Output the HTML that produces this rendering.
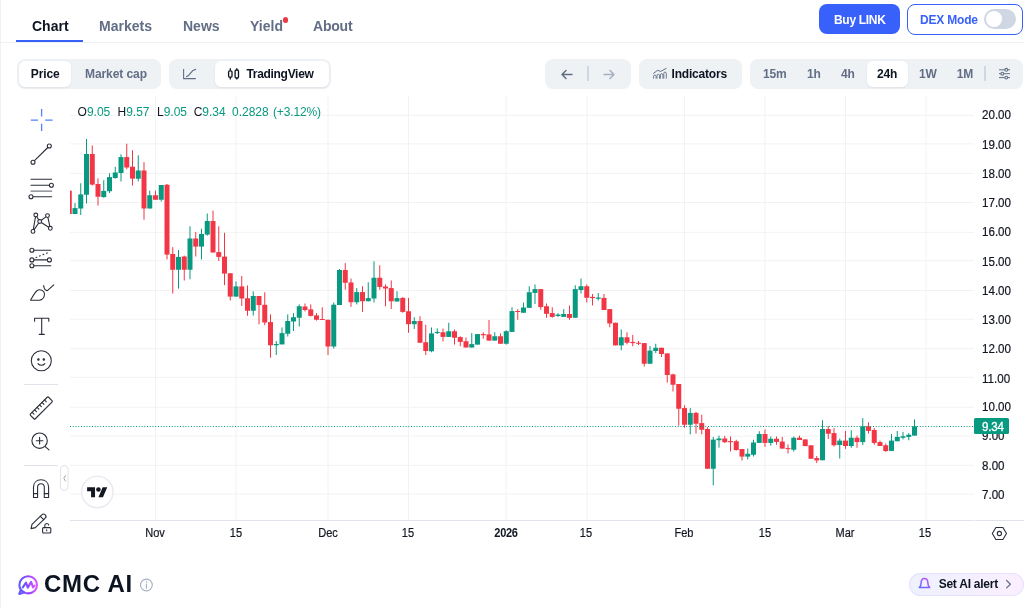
<!DOCTYPE html>
<html lang="en">
<head>
<meta charset="utf-8">
<title>Chainlink chart</title>
<style>
html,body{margin:0;padding:0;}
body{width:1024px;height:608px;overflow:hidden;background:#fff;position:relative;font-family:"Liberation Sans",sans-serif;color:#0d1421;}
.abs{position:absolute;}
.t{position:absolute;white-space:nowrap;line-height:1;}
.nav{font-size:14px;font-weight:bold;color:#616e85;top:19px;}
.seg{position:absolute;background:#eff2f5;border-radius:8px;top:58.5px;height:30px;}
.pill{position:absolute;background:#fff;border-radius:6px;top:60.5px;height:26.5px;box-shadow:0 1px 2px rgba(88,102,126,.12);}
.sm{font-size:12px;font-weight:bold;top:68px;letter-spacing:-0.2px;}
.gray{color:#616e85;}
.lg{top:106.4px;font-size:12px;color:#131722;}
.lg span{color:#089981;}
.ax{font-size:12px;color:#131722;transform:scaleX(0.965);transform-origin:0 50%;-webkit-text-stroke:0.2px #131722;}
.tx{position:absolute;white-space:nowrap;line-height:1;font-size:12px;color:#131722;top:527px;transform:translateX(-50%) scaleX(0.92);-webkit-text-stroke:0.2px #131722;}
svg{position:absolute;left:0;top:0;overflow:visible;}
</style>
</head>
<body>
<!-- left border -->
<div class="abs" style="left:0;top:0;width:1px;height:608px;background:#eff2f5"></div>

<!-- nav tabs -->
<div class="t nav" style="left:32px;color:#0d1421">Chart</div>
<div class="t nav" style="left:99px">Markets</div>
<div class="t nav" style="left:183px">News</div>
<div class="t nav" style="left:250px">Yield</div>
<div class="abs" style="left:282.7px;top:17.2px;width:5.8px;height:5.8px;border-radius:50%;background:#ea3943"></div>
<div class="t nav" style="left:313px;letter-spacing:-0.2px">About</div>
<div class="abs" style="left:0;top:42px;width:1024px;height:1px;background:#eff2f5"></div>
<div class="abs" style="left:16px;top:40px;width:67px;height:2px;background:#3861fb"></div>

<!-- top right buttons -->
<div class="abs" style="left:819px;top:4px;width:81px;height:30px;border-radius:8px;background:#3861fb"></div>
<div class="t" style="left:834px;top:13.5px;font-size:12px;font-weight:bold;color:#fff;letter-spacing:-0.3px">Buy LINK</div>
<div class="abs" style="left:907px;top:3.6px;width:114px;height:29px;border-radius:8px;border:1px solid #3861fb;box-sizing:content-box;background:#fff"></div>
<div class="t" style="left:920px;top:13.5px;font-size:12px;font-weight:bold;color:#3861fb;letter-spacing:-0.2px">DEX Mode</div>
<div class="abs" style="left:984px;top:9px;width:32px;height:20px;border-radius:10px;background:#cfd6e4"></div>
<div class="abs" style="left:986px;top:11px;width:16px;height:16px;border-radius:50%;background:#fff"></div>

<!-- toolbar row -->
<div class="seg" style="left:17px;width:143.5px"></div>
<div class="pill" style="left:18.8px;width:52.5px"></div>
<div class="t sm" style="left:30.8px;letter-spacing:-0.1px">Price</div>
<div class="t sm gray" style="left:85px;letter-spacing:-0.08px">Market cap</div>

<div class="seg" style="left:168.7px;width:162.3px"></div>
<div class="pill" style="left:214.5px;width:114.5px"></div>
<svg width="1024" height="608" viewBox="0 0 1024 608">
  <path d="M183.6 69v9.6h12.2" fill="none" stroke="#616e85" stroke-width="1.1"/>
  <path d="M186.6 76.6C190.5 75.5 190.5 70 195.7 69.4" fill="none" stroke="#616e85" stroke-width="1.1" stroke-linecap="round" stroke-linejoin="round"/>
  <!-- candle icon -->
  <g fill="none" stroke="#0d1421" stroke-width="1.3">
    <rect x="228.6" y="70.8" width="3.4" height="6.4" rx="1.2"/>
    <path d="M230.3 68.2v2.6M230.3 77.2v2.4"/>
    <rect x="235.1" y="70" width="3.4" height="8" rx="1.2"/>
    <path d="M236.8 68.2v1.8M236.8 78v1.6"/>
  </g>
</svg>
<div class="t sm" style="left:246.4px;letter-spacing:-0.3px">TradingView</div>

<div class="seg" style="left:545px;width:86px"></div>
<div class="seg" style="left:639px;width:103px"></div>
<div class="seg" style="left:750px;width:273.3px"></div>
<div class="pill" style="left:867px;width:41px"></div>
<div class="t sm" style="left:671.6px">Indicators</div>
<div class="t sm gray" style="left:763px">15m</div>
<div class="t sm gray" style="left:807px">1h</div>
<div class="t sm gray" style="left:841px">4h</div>
<div class="t sm" style="left:877px">24h</div>
<div class="t sm gray" style="left:919px">1W</div>
<div class="t sm gray" style="left:956.8px">1M</div>
<div class="abs" style="left:984px;top:66px;width:1.6px;height:15px;background:#cfd6e4"></div>
<div class="abs" style="left:587.3px;top:66px;width:1.6px;height:15px;background:#cfd6e4"></div>
<svg width="1024" height="608" viewBox="0 0 1024 608">
  <g fill="none" stroke="#616e85" stroke-width="1.5" stroke-linecap="round" stroke-linejoin="round">
    <path d="M572 74.5h-10M566 70.5l-4 4 4 4"/>
  </g>
  <g fill="none" stroke="#a6b0c3" stroke-width="1.5" stroke-linecap="round" stroke-linejoin="round">
    <path d="M604 74.5h10M610 70.5l4 4-4 4"/>
  </g>
  <!-- indicators icon -->
  <g fill="none" stroke="#616e85" stroke-width="1">
    <path d="M653.6 73.3l4-3 3.2 1.1 5.3-3" stroke-linecap="round" stroke-linejoin="round"/>
    <path d="M653.6 78.6V76.25a1.25 1.25 0 0 1 2.5 0V78.6M657 78.6V75.55a1.25 1.25 0 0 1 2.5 0V78.6M660.4 78.6V74.95a1.25 1.25 0 0 1 2.5 0V78.6M663.8 78.6V73.35a1.25 1.25 0 0 1 2.5 0V78.6" stroke-width="0.9"/>
  </g>
  <!-- settings sliders icon -->
  <g fill="none" stroke="#616e85" stroke-width="1">
    <path d="M999 69.8h11M999 73.7h11M999 77.6h11"/>
    <circle cx="1006.3" cy="69.8" r="1.4" fill="#eff2f5" stroke-width="1.1"/>
    <circle cx="1002.3" cy="73.7" r="1.4" fill="#eff2f5" stroke-width="1.1"/>
    <circle cx="1006.3" cy="77.6" r="1.4" fill="#eff2f5" stroke-width="1.1"/>
  </g>
</svg>

<!-- chart -->
<svg width="1024" height="608" viewBox="0 0 1024 608" shape-rendering="auto">
<defs><clipPath id="pane"><rect x="70" y="96" width="904" height="424"/></clipPath></defs>
<g clip-path="url(#pane)">
<line x1="70" x2="974" y1="494.0" y2="494.0" stroke="#f2f2f3" stroke-width="1"/>
<line x1="70" x2="974" y1="465.3" y2="465.3" stroke="#f2f2f3" stroke-width="1"/>
<line x1="70" x2="974" y1="436.1" y2="436.1" stroke="#f2f2f3" stroke-width="1"/>
<line x1="70" x2="974" y1="407.25" y2="407.25" stroke="#f2f2f3" stroke-width="1"/>
<line x1="70" x2="974" y1="377.3" y2="377.3" stroke="#f2f2f3" stroke-width="1"/>
<line x1="70" x2="974" y1="348.7" y2="348.7" stroke="#f2f2f3" stroke-width="1"/>
<line x1="70" x2="974" y1="319.25" y2="319.25" stroke="#f2f2f3" stroke-width="1"/>
<line x1="70" x2="974" y1="290.5" y2="290.5" stroke="#f2f2f3" stroke-width="1"/>
<line x1="70" x2="974" y1="260.7" y2="260.7" stroke="#f2f2f3" stroke-width="1"/>
<line x1="70" x2="974" y1="232.3" y2="232.3" stroke="#f2f2f3" stroke-width="1"/>
<line x1="70" x2="974" y1="202.5" y2="202.5" stroke="#f2f2f3" stroke-width="1"/>
<line x1="70" x2="974" y1="173.4" y2="173.4" stroke="#f2f2f3" stroke-width="1"/>
<line x1="70" x2="974" y1="143.9" y2="143.9" stroke="#f2f2f3" stroke-width="1"/>
<line x1="70" x2="974" y1="115.3" y2="115.3" stroke="#f2f2f3" stroke-width="1"/>
<line x1="155.5" x2="155.5" y1="96" y2="520" stroke="#f2f2f3" stroke-width="1"/>
<line x1="236.0" x2="236.0" y1="96" y2="520" stroke="#f2f2f3" stroke-width="1"/>
<line x1="328.0" x2="328.0" y1="96" y2="520" stroke="#f2f2f3" stroke-width="1"/>
<line x1="408.5" x2="408.5" y1="96" y2="520" stroke="#f2f2f3" stroke-width="1"/>
<line x1="506.0" x2="506.0" y1="96" y2="520" stroke="#f2f2f3" stroke-width="1"/>
<line x1="587.0" x2="587.0" y1="96" y2="520" stroke="#f2f2f3" stroke-width="1"/>
<line x1="684.5" x2="684.5" y1="96" y2="520" stroke="#f2f2f3" stroke-width="1"/>
<line x1="765.0" x2="765.0" y1="96" y2="520" stroke="#f2f2f3" stroke-width="1"/>
<line x1="845.5" x2="845.5" y1="96" y2="520" stroke="#f2f2f3" stroke-width="1"/>
<line x1="926.0" x2="926.0" y1="96" y2="520" stroke="#f2f2f3" stroke-width="1"/>
<rect x="68.75" y="190.60" width="1" height="23.40" fill="#f23645"/>
<rect x="66.75" y="190.60" width="5" height="23.40" fill="#f23645"/>
<rect x="74.50" y="203.10" width="1" height="10.90" fill="#089981"/>
<rect x="72.50" y="208.10" width="5" height="5.90" fill="#089981"/>
<rect x="80.25" y="183.25" width="1" height="31.75" fill="#089981"/>
<rect x="78.25" y="194.40" width="5" height="14.10" fill="#089981"/>
<rect x="86.00" y="139.00" width="1" height="64.50" fill="#089981"/>
<rect x="84.00" y="154.00" width="5" height="40.75" fill="#089981"/>
<rect x="91.75" y="145.50" width="1" height="40.00" fill="#f23645"/>
<rect x="89.75" y="154.00" width="5" height="30.60" fill="#f23645"/>
<rect x="97.50" y="178.40" width="1" height="27.10" fill="#f23645"/>
<rect x="95.50" y="184.00" width="5" height="12.75" fill="#f23645"/>
<rect x="103.25" y="180.25" width="1" height="17.50" fill="#089981"/>
<rect x="101.25" y="190.90" width="5" height="6.20" fill="#089981"/>
<rect x="109.00" y="173.40" width="1" height="19.60" fill="#089981"/>
<rect x="107.00" y="177.10" width="5" height="14.15" fill="#089981"/>
<rect x="114.75" y="166.75" width="1" height="12.00" fill="#089981"/>
<rect x="112.75" y="172.50" width="5" height="5.50" fill="#089981"/>
<rect x="120.50" y="154.25" width="1" height="27.25" fill="#089981"/>
<rect x="118.50" y="157.10" width="5" height="15.90" fill="#089981"/>
<rect x="126.25" y="143.75" width="1" height="25.50" fill="#f23645"/>
<rect x="124.25" y="157.10" width="5" height="10.40" fill="#f23645"/>
<rect x="132.00" y="150.25" width="1" height="35.25" fill="#f23645"/>
<rect x="130.00" y="166.75" width="5" height="11.85" fill="#f23645"/>
<rect x="137.75" y="155.25" width="1" height="26.25" fill="#089981"/>
<rect x="135.75" y="170.50" width="5" height="8.25" fill="#089981"/>
<rect x="143.50" y="162.10" width="1" height="57.65" fill="#f23645"/>
<rect x="141.50" y="170.50" width="5" height="38.00" fill="#f23645"/>
<rect x="149.25" y="190.60" width="1" height="17.90" fill="#089981"/>
<rect x="147.25" y="195.25" width="5" height="13.25" fill="#089981"/>
<rect x="155.00" y="190.60" width="1" height="9.15" fill="#f23645"/>
<rect x="153.00" y="195.25" width="5" height="4.50" fill="#f23645"/>
<rect x="160.75" y="185.00" width="1" height="16.50" fill="#089981"/>
<rect x="158.75" y="185.00" width="5" height="14.75" fill="#089981"/>
<rect x="166.50" y="184.00" width="1" height="75.40" fill="#f23645"/>
<rect x="164.50" y="184.75" width="5" height="69.85" fill="#f23645"/>
<rect x="172.25" y="247.10" width="1" height="46.40" fill="#f23645"/>
<rect x="170.25" y="254.00" width="5" height="15.75" fill="#f23645"/>
<rect x="178.00" y="250.00" width="1" height="38.60" fill="#089981"/>
<rect x="176.00" y="256.90" width="5" height="12.85" fill="#089981"/>
<rect x="183.75" y="255.60" width="1" height="24.90" fill="#f23645"/>
<rect x="181.75" y="256.50" width="5" height="13.25" fill="#f23645"/>
<rect x="189.50" y="226.25" width="1" height="53.00" fill="#089981"/>
<rect x="187.50" y="238.50" width="5" height="31.25" fill="#089981"/>
<rect x="195.25" y="231.90" width="1" height="24.60" fill="#f23645"/>
<rect x="193.25" y="238.50" width="5" height="8.10" fill="#f23645"/>
<rect x="201.00" y="228.75" width="1" height="30.65" fill="#089981"/>
<rect x="199.00" y="234.00" width="5" height="12.60" fill="#089981"/>
<rect x="206.75" y="213.50" width="1" height="22.10" fill="#089981"/>
<rect x="204.75" y="221.00" width="5" height="13.60" fill="#089981"/>
<rect x="212.50" y="210.60" width="1" height="41.90" fill="#f23645"/>
<rect x="210.50" y="221.00" width="5" height="31.50" fill="#f23645"/>
<rect x="218.25" y="226.25" width="1" height="34.75" fill="#f23645"/>
<rect x="216.25" y="252.10" width="5" height="4.80" fill="#f23645"/>
<rect x="224.00" y="232.75" width="1" height="52.35" fill="#f23645"/>
<rect x="222.00" y="256.60" width="5" height="17.00" fill="#f23645"/>
<rect x="229.75" y="273.25" width="1" height="27.25" fill="#f23645"/>
<rect x="227.75" y="273.25" width="5" height="23.35" fill="#f23645"/>
<rect x="235.50" y="281.40" width="1" height="15.20" fill="#089981"/>
<rect x="233.50" y="286.40" width="5" height="10.20" fill="#089981"/>
<rect x="241.25" y="276.00" width="1" height="30.00" fill="#f23645"/>
<rect x="239.25" y="286.40" width="5" height="12.10" fill="#f23645"/>
<rect x="247.00" y="285.40" width="1" height="30.35" fill="#f23645"/>
<rect x="245.00" y="298.25" width="5" height="12.50" fill="#f23645"/>
<rect x="252.75" y="291.40" width="1" height="24.10" fill="#089981"/>
<rect x="250.75" y="296.00" width="5" height="14.75" fill="#089981"/>
<rect x="258.50" y="296.00" width="1" height="28.30" fill="#f23645"/>
<rect x="256.50" y="296.00" width="5" height="9.10" fill="#f23645"/>
<rect x="264.25" y="292.25" width="1" height="32.95" fill="#f23645"/>
<rect x="262.25" y="304.75" width="5" height="17.75" fill="#f23645"/>
<rect x="270.00" y="314.30" width="1" height="43.45" fill="#f23645"/>
<rect x="268.00" y="322.10" width="5" height="23.15" fill="#f23645"/>
<rect x="275.75" y="341.00" width="1" height="14.00" fill="#089981"/>
<rect x="273.75" y="344.00" width="5" height="1.25" fill="#089981"/>
<rect x="281.50" y="327.50" width="1" height="16.90" fill="#089981"/>
<rect x="279.50" y="333.10" width="5" height="11.30" fill="#089981"/>
<rect x="287.25" y="314.40" width="1" height="22.10" fill="#089981"/>
<rect x="285.25" y="321.00" width="5" height="12.75" fill="#089981"/>
<rect x="293.00" y="313.10" width="1" height="17.90" fill="#089981"/>
<rect x="291.00" y="317.25" width="5" height="4.25" fill="#089981"/>
<rect x="298.75" y="304.40" width="1" height="22.10" fill="#089981"/>
<rect x="296.75" y="306.25" width="5" height="11.50" fill="#089981"/>
<rect x="304.50" y="303.50" width="1" height="8.00" fill="#f23645"/>
<rect x="302.50" y="306.50" width="5" height="3.50" fill="#f23645"/>
<rect x="310.25" y="304.40" width="1" height="12.10" fill="#f23645"/>
<rect x="308.25" y="309.40" width="5" height="6.50" fill="#f23645"/>
<rect x="316.00" y="313.10" width="1" height="7.50" fill="#f23645"/>
<rect x="314.00" y="315.40" width="5" height="4.35" fill="#f23645"/>
<rect x="321.75" y="307.25" width="1" height="12.50" fill="#f23645"/>
<rect x="319.75" y="319.00" width="5" height="1.00" fill="#f23645"/>
<rect x="327.50" y="319.75" width="1" height="35.25" fill="#f23645"/>
<rect x="325.50" y="319.75" width="5" height="26.75" fill="#f23645"/>
<rect x="333.25" y="302.50" width="1" height="46.00" fill="#089981"/>
<rect x="331.25" y="304.70" width="5" height="41.80" fill="#089981"/>
<rect x="339.00" y="269.00" width="1" height="36.00" fill="#089981"/>
<rect x="337.00" y="270.00" width="5" height="35.00" fill="#089981"/>
<rect x="344.75" y="263.10" width="1" height="26.65" fill="#f23645"/>
<rect x="342.75" y="270.00" width="5" height="12.75" fill="#f23645"/>
<rect x="350.50" y="278.50" width="1" height="28.40" fill="#f23645"/>
<rect x="348.50" y="282.50" width="5" height="19.75" fill="#f23645"/>
<rect x="356.25" y="288.10" width="1" height="16.30" fill="#089981"/>
<rect x="354.25" y="292.10" width="5" height="10.15" fill="#089981"/>
<rect x="362.00" y="286.25" width="1" height="25.65" fill="#f23645"/>
<rect x="360.00" y="292.10" width="5" height="9.15" fill="#f23645"/>
<rect x="367.75" y="282.25" width="1" height="19.00" fill="#089981"/>
<rect x="365.75" y="298.10" width="5" height="3.15" fill="#089981"/>
<rect x="373.50" y="261.25" width="1" height="41.25" fill="#089981"/>
<rect x="371.50" y="277.75" width="5" height="20.75" fill="#089981"/>
<rect x="379.25" y="265.25" width="1" height="24.50" fill="#f23645"/>
<rect x="377.25" y="277.75" width="5" height="9.15" fill="#f23645"/>
<rect x="385.00" y="284.40" width="1" height="21.85" fill="#f23645"/>
<rect x="383.00" y="286.50" width="5" height="2.00" fill="#f23645"/>
<rect x="390.75" y="280.40" width="1" height="28.60" fill="#f23645"/>
<rect x="388.75" y="288.10" width="5" height="13.15" fill="#f23645"/>
<rect x="396.50" y="291.25" width="1" height="10.25" fill="#089981"/>
<rect x="394.50" y="298.10" width="5" height="3.40" fill="#089981"/>
<rect x="402.25" y="297.20" width="1" height="15.55" fill="#f23645"/>
<rect x="400.25" y="297.90" width="5" height="14.00" fill="#f23645"/>
<rect x="408.00" y="297.90" width="1" height="34.85" fill="#f23645"/>
<rect x="406.00" y="311.25" width="5" height="12.95" fill="#f23645"/>
<rect x="413.75" y="317.20" width="1" height="11.80" fill="#089981"/>
<rect x="411.75" y="321.00" width="5" height="3.20" fill="#089981"/>
<rect x="419.50" y="316.25" width="1" height="26.50" fill="#f23645"/>
<rect x="417.50" y="321.00" width="5" height="21.75" fill="#f23645"/>
<rect x="425.25" y="324.75" width="1" height="30.25" fill="#f23645"/>
<rect x="423.25" y="342.25" width="5" height="8.75" fill="#f23645"/>
<rect x="431.00" y="327.50" width="1" height="24.75" fill="#089981"/>
<rect x="429.00" y="333.40" width="5" height="17.85" fill="#089981"/>
<rect x="436.75" y="328.40" width="1" height="5.60" fill="#089981"/>
<rect x="434.75" y="331.90" width="5" height="1.20" fill="#089981"/>
<rect x="442.50" y="328.50" width="1" height="13.00" fill="#f23645"/>
<rect x="440.50" y="332.25" width="5" height="4.65" fill="#f23645"/>
<rect x="448.25" y="322.75" width="1" height="14.15" fill="#089981"/>
<rect x="446.25" y="331.25" width="5" height="5.65" fill="#089981"/>
<rect x="454.00" y="329.40" width="1" height="15.20" fill="#f23645"/>
<rect x="452.00" y="331.25" width="5" height="6.50" fill="#f23645"/>
<rect x="459.75" y="336.25" width="1" height="10.00" fill="#f23645"/>
<rect x="457.75" y="337.10" width="5" height="4.80" fill="#f23645"/>
<rect x="465.50" y="337.50" width="1" height="10.00" fill="#f23645"/>
<rect x="463.50" y="341.25" width="5" height="6.25" fill="#f23645"/>
<rect x="471.25" y="333.10" width="1" height="14.40" fill="#089981"/>
<rect x="469.25" y="344.10" width="5" height="3.40" fill="#089981"/>
<rect x="477.00" y="334.10" width="1" height="10.50" fill="#089981"/>
<rect x="475.00" y="334.10" width="5" height="10.50" fill="#089981"/>
<rect x="482.75" y="332.25" width="1" height="6.50" fill="#f23645"/>
<rect x="480.75" y="334.10" width="5" height="1.15" fill="#f23645"/>
<rect x="488.50" y="320.00" width="1" height="20.60" fill="#f23645"/>
<rect x="486.50" y="334.40" width="5" height="6.20" fill="#f23645"/>
<rect x="494.25" y="332.25" width="1" height="8.35" fill="#089981"/>
<rect x="492.25" y="336.25" width="5" height="4.35" fill="#089981"/>
<rect x="500.00" y="333.40" width="1" height="10.35" fill="#f23645"/>
<rect x="498.00" y="336.25" width="5" height="7.50" fill="#f23645"/>
<rect x="505.75" y="330.25" width="1" height="14.35" fill="#089981"/>
<rect x="503.75" y="331.25" width="5" height="12.50" fill="#089981"/>
<rect x="511.50" y="307.25" width="1" height="24.65" fill="#089981"/>
<rect x="509.50" y="311.10" width="5" height="20.80" fill="#089981"/>
<rect x="517.25" y="309.20" width="1" height="10.55" fill="#f23645"/>
<rect x="515.25" y="311.00" width="5" height="1.00" fill="#f23645"/>
<rect x="523.00" y="302.60" width="1" height="10.15" fill="#089981"/>
<rect x="521.00" y="307.50" width="5" height="5.25" fill="#089981"/>
<rect x="528.75" y="286.25" width="1" height="21.65" fill="#089981"/>
<rect x="526.75" y="292.25" width="5" height="15.65" fill="#089981"/>
<rect x="534.50" y="284.40" width="1" height="19.60" fill="#089981"/>
<rect x="532.50" y="289.10" width="5" height="3.80" fill="#089981"/>
<rect x="540.25" y="289.10" width="1" height="20.65" fill="#f23645"/>
<rect x="538.25" y="289.10" width="5" height="18.00" fill="#f23645"/>
<rect x="546.00" y="303.50" width="1" height="14.25" fill="#f23645"/>
<rect x="544.00" y="306.25" width="5" height="7.50" fill="#f23645"/>
<rect x="551.75" y="307.25" width="1" height="10.50" fill="#f23645"/>
<rect x="549.75" y="313.10" width="5" height="3.80" fill="#f23645"/>
<rect x="557.50" y="313.10" width="1" height="3.80" fill="#089981"/>
<rect x="555.50" y="314.60" width="5" height="1.40" fill="#089981"/>
<rect x="563.25" y="309.10" width="1" height="7.80" fill="#089981"/>
<rect x="561.25" y="314.00" width="5" height="2.90" fill="#089981"/>
<rect x="569.00" y="305.40" width="1" height="14.35" fill="#f23645"/>
<rect x="567.00" y="314.00" width="5" height="3.90" fill="#f23645"/>
<rect x="574.75" y="285.25" width="1" height="32.50" fill="#089981"/>
<rect x="572.75" y="289.10" width="5" height="28.65" fill="#089981"/>
<rect x="580.50" y="278.50" width="1" height="15.00" fill="#089981"/>
<rect x="578.50" y="286.25" width="5" height="3.75" fill="#089981"/>
<rect x="586.25" y="284.40" width="1" height="18.10" fill="#f23645"/>
<rect x="584.25" y="286.25" width="5" height="11.50" fill="#f23645"/>
<rect x="592.00" y="294.00" width="1" height="11.40" fill="#f23645"/>
<rect x="590.00" y="296.90" width="5" height="1.20" fill="#f23645"/>
<rect x="597.75" y="293.10" width="1" height="7.50" fill="#089981"/>
<rect x="595.75" y="297.50" width="5" height="1.25" fill="#089981"/>
<rect x="603.50" y="294.00" width="1" height="16.00" fill="#f23645"/>
<rect x="601.50" y="297.90" width="5" height="12.10" fill="#f23645"/>
<rect x="609.25" y="309.10" width="1" height="18.15" fill="#f23645"/>
<rect x="607.25" y="309.10" width="5" height="14.40" fill="#f23645"/>
<rect x="615.00" y="322.75" width="1" height="22.65" fill="#f23645"/>
<rect x="613.00" y="322.75" width="5" height="22.65" fill="#f23645"/>
<rect x="620.75" y="329.40" width="1" height="20.85" fill="#089981"/>
<rect x="618.75" y="337.25" width="5" height="8.15" fill="#089981"/>
<rect x="626.50" y="332.25" width="1" height="12.15" fill="#f23645"/>
<rect x="624.50" y="337.25" width="5" height="5.50" fill="#f23645"/>
<rect x="632.25" y="335.00" width="1" height="11.25" fill="#f23645"/>
<rect x="630.25" y="341.90" width="5" height="1.20" fill="#f23645"/>
<rect x="638.00" y="341.00" width="1" height="4.00" fill="#f23645"/>
<rect x="636.00" y="342.75" width="5" height="1.00" fill="#f23645"/>
<rect x="643.75" y="343.10" width="1" height="23.40" fill="#f23645"/>
<rect x="641.75" y="343.10" width="5" height="20.65" fill="#f23645"/>
<rect x="649.50" y="346.00" width="1" height="17.75" fill="#089981"/>
<rect x="647.50" y="350.60" width="5" height="13.15" fill="#089981"/>
<rect x="655.25" y="343.75" width="1" height="9.35" fill="#089981"/>
<rect x="653.25" y="347.75" width="5" height="3.25" fill="#089981"/>
<rect x="661.00" y="347.75" width="1" height="9.15" fill="#f23645"/>
<rect x="659.00" y="347.75" width="5" height="6.25" fill="#f23645"/>
<rect x="666.75" y="353.40" width="1" height="29.20" fill="#f23645"/>
<rect x="664.75" y="353.40" width="5" height="21.60" fill="#f23645"/>
<rect x="672.50" y="373.75" width="1" height="17.75" fill="#f23645"/>
<rect x="670.50" y="374.40" width="5" height="10.35" fill="#f23645"/>
<rect x="678.25" y="384.00" width="1" height="41.60" fill="#f23645"/>
<rect x="676.25" y="384.00" width="5" height="24.75" fill="#f23645"/>
<rect x="684.00" y="405.25" width="1" height="22.50" fill="#f23645"/>
<rect x="682.00" y="408.10" width="5" height="16.65" fill="#f23645"/>
<rect x="689.75" y="408.10" width="1" height="26.30" fill="#089981"/>
<rect x="687.75" y="412.90" width="5" height="11.85" fill="#089981"/>
<rect x="695.50" y="411.90" width="1" height="21.60" fill="#f23645"/>
<rect x="693.50" y="412.90" width="5" height="10.85" fill="#f23645"/>
<rect x="701.25" y="414.75" width="1" height="19.65" fill="#f23645"/>
<rect x="699.25" y="423.10" width="5" height="6.65" fill="#f23645"/>
<rect x="707.00" y="427.25" width="1" height="41.50" fill="#f23645"/>
<rect x="705.00" y="429.00" width="5" height="39.75" fill="#f23645"/>
<rect x="712.75" y="436.90" width="1" height="48.35" fill="#089981"/>
<rect x="710.75" y="439.60" width="5" height="29.15" fill="#089981"/>
<rect x="718.50" y="435.60" width="1" height="12.00" fill="#089981"/>
<rect x="716.50" y="438.50" width="5" height="1.75" fill="#089981"/>
<rect x="724.25" y="435.90" width="1" height="7.20" fill="#f23645"/>
<rect x="722.25" y="438.50" width="5" height="3.70" fill="#f23645"/>
<rect x="730.00" y="436.50" width="1" height="15.00" fill="#f23645"/>
<rect x="728.00" y="441.10" width="5" height="1.10" fill="#f23645"/>
<rect x="735.75" y="439.75" width="1" height="10.85" fill="#f23645"/>
<rect x="733.75" y="441.25" width="5" height="8.75" fill="#f23645"/>
<rect x="741.50" y="449.00" width="1" height="11.60" fill="#f23645"/>
<rect x="739.50" y="449.00" width="5" height="7.60" fill="#f23645"/>
<rect x="747.25" y="448.50" width="1" height="10.90" fill="#089981"/>
<rect x="745.25" y="453.75" width="5" height="2.85" fill="#089981"/>
<rect x="753.00" y="439.75" width="1" height="16.75" fill="#089981"/>
<rect x="751.00" y="442.50" width="5" height="12.25" fill="#089981"/>
<rect x="758.75" y="431.25" width="1" height="11.65" fill="#089981"/>
<rect x="756.75" y="434.00" width="5" height="8.90" fill="#089981"/>
<rect x="764.50" y="429.40" width="1" height="17.50" fill="#f23645"/>
<rect x="762.50" y="434.00" width="5" height="8.90" fill="#f23645"/>
<rect x="770.25" y="436.50" width="1" height="9.10" fill="#089981"/>
<rect x="768.25" y="438.75" width="5" height="4.15" fill="#089981"/>
<rect x="776.00" y="436.50" width="1" height="8.25" fill="#f23645"/>
<rect x="774.00" y="438.75" width="5" height="3.15" fill="#f23645"/>
<rect x="781.75" y="436.90" width="1" height="11.70" fill="#f23645"/>
<rect x="779.75" y="441.60" width="5" height="7.00" fill="#f23645"/>
<rect x="787.50" y="444.40" width="1" height="9.10" fill="#f23645"/>
<rect x="785.50" y="448.10" width="5" height="1.00" fill="#f23645"/>
<rect x="793.25" y="436.50" width="1" height="15.00" fill="#089981"/>
<rect x="791.25" y="437.75" width="5" height="12.00" fill="#089981"/>
<rect x="799.00" y="435.60" width="1" height="4.40" fill="#f23645"/>
<rect x="797.00" y="437.75" width="5" height="2.25" fill="#f23645"/>
<rect x="804.75" y="439.40" width="1" height="6.70" fill="#f23645"/>
<rect x="802.75" y="439.40" width="5" height="6.70" fill="#f23645"/>
<rect x="810.50" y="445.30" width="1" height="13.45" fill="#f23645"/>
<rect x="808.50" y="445.30" width="5" height="13.45" fill="#f23645"/>
<rect x="816.25" y="456.00" width="1" height="7.10" fill="#f23645"/>
<rect x="814.25" y="458.10" width="5" height="2.30" fill="#f23645"/>
<rect x="822.00" y="420.25" width="1" height="40.00" fill="#089981"/>
<rect x="820.00" y="429.00" width="5" height="31.25" fill="#089981"/>
<rect x="827.75" y="426.25" width="1" height="12.75" fill="#f23645"/>
<rect x="825.75" y="429.00" width="5" height="4.75" fill="#f23645"/>
<rect x="833.50" y="428.10" width="1" height="18.40" fill="#f23645"/>
<rect x="831.50" y="433.10" width="5" height="12.15" fill="#f23645"/>
<rect x="839.25" y="438.50" width="1" height="20.00" fill="#089981"/>
<rect x="837.25" y="440.60" width="5" height="4.40" fill="#089981"/>
<rect x="845.00" y="431.00" width="1" height="17.75" fill="#f23645"/>
<rect x="843.00" y="440.60" width="5" height="5.40" fill="#f23645"/>
<rect x="850.75" y="430.25" width="1" height="17.50" fill="#089981"/>
<rect x="848.75" y="437.75" width="5" height="8.25" fill="#089981"/>
<rect x="856.50" y="435.60" width="1" height="12.15" fill="#f23645"/>
<rect x="854.50" y="437.75" width="5" height="4.35" fill="#f23645"/>
<rect x="862.25" y="418.10" width="1" height="26.90" fill="#089981"/>
<rect x="860.25" y="426.25" width="5" height="15.85" fill="#089981"/>
<rect x="868.00" y="422.25" width="1" height="11.25" fill="#f23645"/>
<rect x="866.00" y="426.25" width="5" height="4.65" fill="#f23645"/>
<rect x="873.75" y="428.10" width="1" height="16.65" fill="#f23645"/>
<rect x="871.75" y="430.00" width="5" height="12.90" fill="#f23645"/>
<rect x="879.50" y="440.60" width="1" height="5.40" fill="#f23645"/>
<rect x="877.50" y="442.10" width="5" height="3.90" fill="#f23645"/>
<rect x="885.25" y="443.50" width="1" height="8.40" fill="#f23645"/>
<rect x="883.25" y="445.25" width="5" height="5.75" fill="#f23645"/>
<rect x="891.00" y="434.00" width="1" height="16.90" fill="#089981"/>
<rect x="889.00" y="440.60" width="5" height="10.30" fill="#089981"/>
<rect x="896.75" y="431.00" width="1" height="10.25" fill="#089981"/>
<rect x="894.75" y="436.90" width="5" height="4.35" fill="#089981"/>
<rect x="902.50" y="431.90" width="1" height="7.50" fill="#089981"/>
<rect x="900.50" y="436.25" width="5" height="1.50" fill="#089981"/>
<rect x="908.25" y="433.10" width="1" height="7.15" fill="#089981"/>
<rect x="906.25" y="434.75" width="5" height="2.15" fill="#089981"/>
<rect x="914.00" y="419.40" width="1" height="16.20" fill="#089981"/>
<rect x="912.00" y="426.25" width="5" height="9.35" fill="#089981"/>
<line x1="70" x2="974" y1="426.5" y2="426.5" stroke="#089981" stroke-width="1" stroke-dasharray="1 1.75"/>
</g>
<line x1="70" x2="974" y1="520.5" y2="520.5" stroke="#e0e3eb" stroke-width="1"/><line x1="975" x2="1024" y1="520.5" y2="520.5" stroke="#e0e3eb" stroke-width="1"/>
</svg>

<!-- legend -->
<div class="t lg" style="left:77.6px">O<span>9.05</span></div>
<div class="t lg" style="left:117.5px">H<span>9.57</span></div>
<div class="t lg" style="left:157px">L<span>9.05</span></div>
<div class="t lg" style="left:193.7px">C<span>9.34</span></div>
<div class="t lg" style="left:232px"><span>0.2828</span></div>
<div class="t lg" style="left:273px;letter-spacing:-0.15px"><span>(+3.12%)</span></div>

<!-- price axis -->
<div class="t ax" style="left:981.7px;top:109.0px">20.00</div>
<div class="t ax" style="left:981.7px;top:139.0px">19.00</div>
<div class="t ax" style="left:981.7px;top:168.0px">18.00</div>
<div class="t ax" style="left:981.7px;top:197.2px">17.00</div>
<div class="t ax" style="left:981.7px;top:226.1px">16.00</div>
<div class="t ax" style="left:981.7px;top:255.5px">15.00</div>
<div class="t ax" style="left:981.7px;top:284.6px">14.00</div>
<div class="t ax" style="left:981.7px;top:313.7px">13.00</div>
<div class="t ax" style="left:981.7px;top:342.9px">12.00</div>
<div class="t ax" style="left:981.7px;top:372.5px">11.00</div>
<div class="t ax" style="left:981.7px;top:401.3px">10.00</div>
<div class="t ax" style="left:981.7px;top:430.2px">9.00</div>
<div class="t ax" style="left:981.7px;top:459.6px">8.00</div>
<div class="t ax" style="left:981.7px;top:489.0px">7.00</div>
<div class="abs" style="left:974px;top:418.1px;width:35.3px;height:16.3px;border-radius:1.5px;background:#089981"></div>
<div class="t ax" style="left:981.7px;top:420.9px;color:#fff;-webkit-text-stroke:0.3px #fff;letter-spacing:-0.2px">9.34</div>

<!-- time axis -->
<div class="tx" style="left:155.4px">Nov</div>
<div class="tx" style="left:235.9px">15</div>
<div class="tx" style="left:327.9px">Dec</div>
<div class="tx" style="left:408.3px">15</div>
<div class="tx" style="left:506px;font-weight:bold;letter-spacing:-0.3px;-webkit-text-stroke:0">2026</div>
<div class="tx" style="left:586.4px">15</div>
<div class="tx" style="left:684px">Feb</div>
<div class="tx" style="left:765.1px">15</div>
<div class="tx" style="left:845.2px">Mar</div>
<div class="tx" style="left:925.2px">15</div>

<!-- left drawing tools -->
<svg width="1024" height="608" viewBox="0 0 1024 608">
<g fill="none" stroke="#2a2e39" stroke-width="1.1" stroke-linecap="round" stroke-linejoin="round">
  <!-- crosshair -->
  <path d="M41.6 109v7.5M41.6 123.8v7.2M30.8 120.2h7.2M45.2 120.2h7.4" stroke="#4f83ff" stroke-width="1.3" stroke-linecap="butt"/>
  <!-- trend line -->
  <circle cx="49.3" cy="146" r="2"/><circle cx="33" cy="162.2" r="2"/>
  <path d="M34.5 160.7L47.8 147.5"/>
  <!-- fib -->
  <path d="M31 179.2h20.7M31 185.2h18.2M33 196.8h18.7"/>
  <path d="M31 191.1h20.7" stroke="#787b86" stroke-width="1.4"/>
  <circle cx="51.4" cy="185.2" r="2" fill="#fff"/><circle cx="31" cy="196.8" r="2" fill="#fff"/>
  <!-- pattern -->
  <path d="M35.8 215L33 231.4L39.7 221.5L35.8 215M39.7 221.5L47.5 215.6L50.3 228.3L39.7 221.5"/>
  <circle cx="35.8" cy="215" r="1.9" fill="#fff"/><circle cx="47.5" cy="215.6" r="1.9" fill="#fff"/><circle cx="39.7" cy="221.5" r="1.9" fill="#fff"/><circle cx="50.3" cy="228.3" r="1.9" fill="#fff"/><circle cx="33" cy="231.4" r="1.9" fill="#fff"/>
  <!-- forecast -->
  <path d="M34 250.2h16.8M34 259.9h13.4M34 265.8h16.8"/>
  <path d="M36 257.5L49 252.2" stroke-dasharray="0.8 3" />
  <circle cx="31.9" cy="250.2" r="2"/><circle cx="31.9" cy="259.9" r="2"/><circle cx="49.4" cy="259.9" r="2"/><circle cx="31.9" cy="265.8" r="2"/>
  <!-- brush -->
  <path d="M30.6 300.2C33 296 35 292 37.2 290.5C40 288.8 44.5 290.5 44.5 294C44.5 297.5 42 299.8 39.5 300.2Z"/>
  <path d="M43.7 285.6C44 289 45.5 290.8 47.4 290.6L53.8 284.9"/>
  <!-- text -->
  <path d="M34.6 321.3v-3.1h14.2v3.1M41.7 318.2v16.2M39.3 334.4h5"/>
  <!-- smiley -->
  <circle cx="41.3" cy="360.7" r="10"/>
  <path d="M38 363.6C39.5 365.8 43.3 365.8 44.8 363.6"/>
  <circle cx="38.4" cy="359.5" r="0.7" fill="#2a2e39"/><circle cx="43.8" cy="359.5" r="0.7" fill="#2a2e39"/>
  <!-- ruler -->
  <g transform="translate(41.25 408) rotate(-45)">
    <rect x="-12.8" y="-3.4" width="25.6" height="6.8" rx="1"/>
    <path d="M-9.5 -3.4v2.6M-6 -3.4v2.6M-2.5 -3.4v2.6M1 -3.4v2.6M4.5 -3.4v2.6M8 -3.4v2.6"/>
  </g>
  <!-- zoom -->
  <circle cx="39.6" cy="440.7" r="7.7"/>
  <path d="M36.3 440.7h6.6M39.6 437.4v6.6M45.2 446.6l3.8 3.3"/>
  <!-- magnet -->
  <path d="M33.5 497.5V487.3C33.5 482.6 36.6 479.8 41 479.8C45.4 479.8 48.6 482.6 48.6 487.3V497.5H44.3V487.3C44.3 485 43 483.8 41 483.8C39 483.8 37.6 485 37.6 487.3V497.5Z"/>
  <path d="M33.5 493.6h4.1M44.3 493.6h4.3"/>
  <!-- pencil + lock -->
  <path d="M31 528.6L32 524.3L41.8 514.8C42.8 513.8 44.3 513.8 45.2 514.8C46.2 515.8 46.2 517.2 45.2 518.2L35.4 527.6Z"/>
  <path d="M40.3 516.3L43.7 519.7"/>
  <rect x="42.6" y="527.6" width="8.2" height="5.4" rx="1"/>
  <path d="M44.8 527.6v-2c0-2.6 3.8-2.6 3.8-0.6"/>
  <path d="M46.7 529.8v1" />
</g>
<!-- separators -->
<path d="M24 384.5h34M24 465.5h34" stroke="#e0e3eb" stroke-width="1" fill="none"/>
<!-- collapse handle -->
<rect x="60.5" y="465.5" width="7.5" height="25" rx="3.7" fill="#fff" stroke="#e0e3eb" stroke-width="1"/>
<path d="M65.6 475.3l-1.8 3 1.8 3" fill="none" stroke="#9598a1" stroke-width="0.9"/>
<!-- TV logo -->
<circle cx="97.3" cy="492" r="15.7" fill="#fff" stroke="#e9ebf2" stroke-width="1.5"/>
<g transform="translate(87.1 484.9) scale(0.567)" fill="#131722">
  <path d="M14 22H7V11H0V4h14v18zM28 22h-8l7.5-18h8L28 22z"/><circle cx="20" cy="8" r="4"/>
</g>
<!-- axis settings hexagon -->
<g fill="none" stroke="#2a2e39" stroke-width="1.1" stroke-linejoin="round">
  <path d="M992.3 533.5l3.6-6h7l3.6 6-3.6 6h-7z"/>
  <circle cx="999.4" cy="533.5" r="2.1"/>
</g>

</svg>

<!-- bottom -->
<div class="t" style="left:44px;top:572px;font-size:24px;font-weight:bold;color:#0d1421;letter-spacing:0.75px">CMC AI</div>
<div class="abs" style="left:909px;top:572.5px;width:114.5px;height:23.5px;border-radius:12px;background:linear-gradient(90deg,#eef1ff,#f6efff 70%,#fbefff);box-shadow:inset 0 0 0 1px rgba(190,180,255,.25)"></div>
<div class="t" style="left:938.7px;top:578px;font-size:12px;font-weight:bold;color:#0d1421;letter-spacing:-0.25px">Set AI alert</div>
<svg width="1024" height="608" viewBox="0 0 1024 608">
<defs>
<linearGradient id="cg" x1="0" y1="0" x2="1" y2="0"><stop offset="0" stop-color="#5b5bff"/><stop offset="0.55" stop-color="#9a45ff"/><stop offset="1" stop-color="#d95bff"/></linearGradient>
<linearGradient id="bg" x1="0" y1="1" x2="1" y2="0"><stop offset="0" stop-color="#5d6bff"/><stop offset="1" stop-color="#c850ff"/></linearGradient>
</defs>
<g fill="none" stroke="url(#cg)" stroke-width="2.1" stroke-linecap="round" stroke-linejoin="round">
  <path d="M25 592.6C21.5 591 19.4 588.2 19.4 584.9C19.4 580 23.3 576.2 28.2 576.2C33.1 576.2 37 580 37 584.9C37 589.8 33.1 593.4 28.2 593.4C26.6 593.4 25.2 593 24 592.4L19.3 593.9L20.8 590"/>
  <path d="M22.8 587.4L26 582.6L27.8 587.6L31.2 581.8L33 587.4L34.6 585.6"/>
</g>
<g fill="none" stroke="#a6b0c3" stroke-width="1.1">
  <circle cx="146.4" cy="585" r="5.9"/>
  <path d="M146.4 584v4.2" stroke-linecap="round"/>
  <circle cx="146.4" cy="581.9" r="0.5" fill="#a6b0c3" stroke-width="0.6"/>
</g>
<g fill="none" stroke="url(#bg)" stroke-width="1.5" stroke-linecap="round" stroke-linejoin="round">
  <path d="M919.3 587.5C920.7 586.5 921.1 585.3 921.1 583.3C921.1 580.3 922.4 578.5 924.5 578.5C926.6 578.5 927.9 580.3 927.9 583.3C927.9 585.3 928.3 586.5 929.7 587.5Z"/>
  <path d="M923.3 590h2.4"/>
</g>
<path d="M1006.6 580.5l3.8 3.7-3.8 3.7" fill="none" stroke="#616e85" stroke-width="1.2" stroke-linecap="round" stroke-linejoin="round"/>
</svg>
</body>
</html>
